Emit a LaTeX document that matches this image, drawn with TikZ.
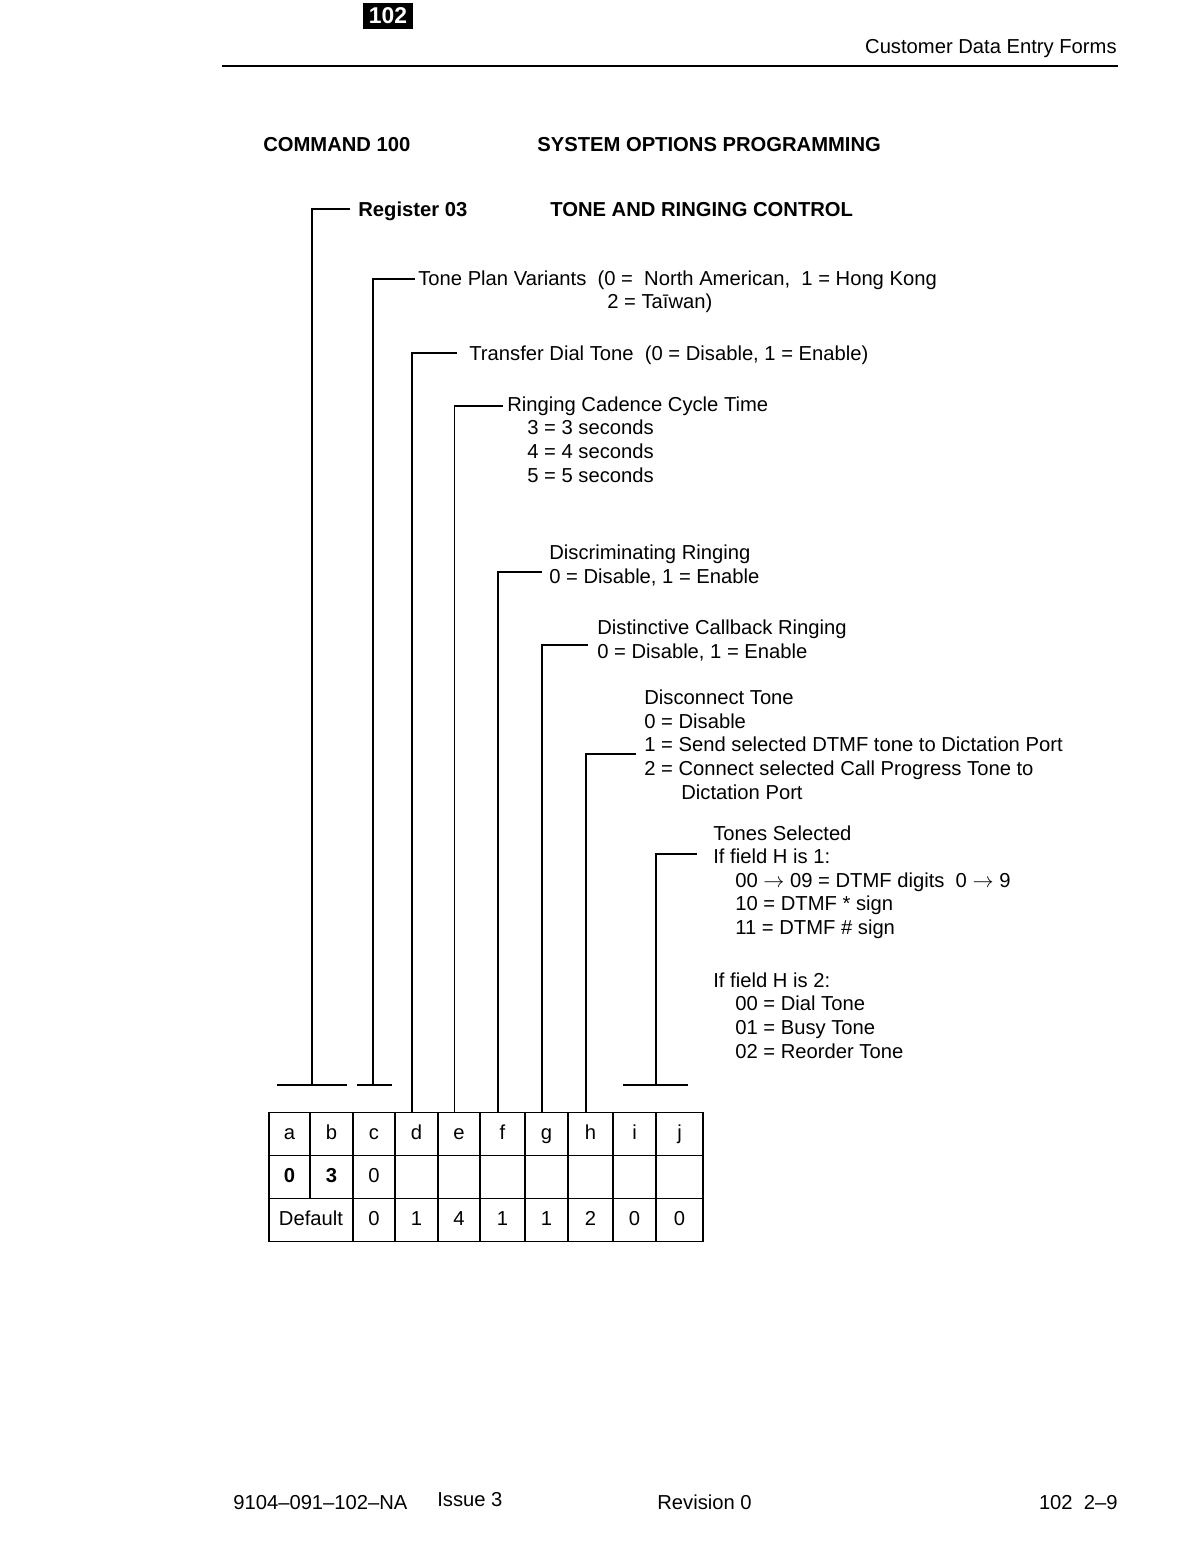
\documentclass[tikz,border=0pt]{standalone}
\usepackage{fontspec}
\setmainfont{Liberation Sans}
\newcommand{\tto}{\ensuremath{\rightarrow}}
\usetikzlibrary{positioning}

\begin{document}
\begin{tikzpicture}[
  x=0.02cm, y=-0.02cm,
  lbl/.style={anchor=base west, inner sep=0pt, align=left, font=\fontsize{11.5}{13.4}\selectfont},
  head/.style={lbl, font=\fontsize{11.5}{13.4}\selectfont\bfseries},
  pgbox/.style={fill=black, text=white, inner sep=0pt, minimum width=1cm, minimum height=0.54cm, font=\fontsize{13}{13}\selectfont\bfseries},
  cell/.style={draw, line width=1.1pt, inner sep=0pt, minimum height=0.86cm, text height=8.3pt, text depth=2.4pt, font=\fontsize{11.5}{13.4}\selectfont},
  bracket/.style={line width=1.1pt},
]
\useasboundingbox (0,0) rectangle (1192,1568);

% page header
\node[pgbox] (pg) at (388,16) {102};
\node[lbl, anchor=base east] (hdr) at (1117,54) {Customer Data Entry Forms};
\coordinate (rule-w) at (222,66);
\coordinate (rule-e) at (1118,66);
\draw[line width=1.4pt] (rule-w) -- (rule-e);

\node[head] (cmd) at (263,152) {COMMAND 100};
\node[head] (sysopt) at (537,152) {SYSTEM OPTIONS PROGRAMMING};
\node[head] (reg) at (358,216) {Register 03};
\node[head] (ctl) at (550,216) {TONE AND RINGING CONTROL};

% field descriptions (multi-line ones sit on their last baseline)
\node[lbl] (plan) at (418,285) {Tone Plan Variants~~(0 =~~North American,~~1 = Hong Kong};
\node[lbl] (planB) at (607,308) {2 = Taīwan)};
\node[lbl] (xfer) at (469,360) {Transfer Dial Tone~~(0 = Disable, 1 = Enable)};
\node[lbl] (ring) at (507,482) {Ringing Cadence Cycle Time\\
  \hspace*{0.4cm}3 = 3 seconds\\
  \hspace*{0.4cm}4 = 4 seconds\\
  \hspace*{0.4cm}5 = 5 seconds};
\node[lbl] (disc) at (549,583) {Discriminating Ringing\\0 = Disable, 1 = Enable};
\node[lbl] (dist) at (597,658) {Distinctive Callback Ringing\\0 = Disable, 1 = Enable};
\node[lbl] (disco) at (644,799) {Disconnect Tone\\
  0 = Disable\\
  1 = Send selected DTMF tone to Dictation Port\\
  2 = Connect selected Call Progress Tone to\\
  \hspace*{0.74cm}Dictation Port};
\node[lbl] (tones) at (713,1058) {Tones Selected\\
  If field H is 1:\\
  \hspace*{0.44cm}00 \tto{} 09 = DTMF digits~~0 \tto{} 9\\
  \hspace*{0.44cm}10 = DTMF * sign\\
  \hspace*{0.44cm}11 = DTMF \# sign\\[0.59cm]
  If field H is 2:\\
  \hspace*{0.44cm}00 = Dial Tone\\
  \hspace*{0.44cm}01 = Busy Tone\\
  \hspace*{0.44cm}02 = Reorder Tone};

% register table
\foreach \l/\xa/\xb/\v in {a/269/310/\bfseries 0, b/310/353/\bfseries 3, c/353/395/0,
    d/395/438/, e/438/480/, f/480/525/, g/525/568/, h/568/613/, i/613/656/, j/656/703/}
  {\pgfmathsetmacro\w{(\xb-\xa)*0.02}
   \node[cell, minimum width=\w cm] (c\l) at ({(\xa+\xb)/2},1134) {\l};
   \node[cell, minimum width=\w cm] (v\l) at ({(\xa+\xb)/2},1177) {\v};}
\node[cell, minimum width=1.68cm] (dflt) at (311,1220) {Default};
\foreach \l/\xa/\xb/\v in {c/353/395/0, d/395/438/1, e/438/480/4, f/480/525/1,
    g/525/568/1, h/568/613/2, i/613/656/0, j/656/703/0}
  {\pgfmathsetmacro\w{(\xb-\xa)*0.02}
   \node[cell, minimum width=\w cm] (def\l) at ({(\xa+\xb)/2},1220) {\v};}

% ticks over fixed and paired fields
\coordinate (tickA-w) at (277,1085); \coordinate (tickA-e) at (347,1085);
\coordinate (tickB-w) at (357,1085); \coordinate (tickB-e) at (392,1085);
\coordinate (tickC-w) at (623,1085); \coordinate (tickC-e) at (688,1085);
\coordinate (tickA) at (312,1085);
\coordinate (tickB) at (373,1085);
\coordinate (tickC) at (656,1085);
\draw[bracket] (tickA-w) -- (tickA-e);
\draw[bracket] (tickB-w) -- (tickB-e);
\draw[bracket] (tickC-w) -- (tickC-e);

% bracket arm ends
\coordinate (armReg) at (350,209);
\coordinate (armPlan) at (415,279);
\coordinate (armXfer) at (457,353);
\coordinate (armRing) at (503,406);
\coordinate (armDisc) at (542,572);
\coordinate (armDist) at (588,645);
\coordinate (armDisco) at (636,754);
\coordinate (armTones) at (697,854);

\draw[bracket] (tickA) |- (armReg);
\draw[bracket] (tickB) |- (armPlan);
\draw[bracket] ([xshift=-0.09cm]cd.north) |- (armXfer);
\draw[bracket] ([xshift=-0.09cm]ce.north) |- (armRing);
\draw[bracket] ([xshift=-0.09cm]cf.north) |- (armDisc);
\draw[bracket] ([xshift=-0.09cm]cg.north) |- (armDist);
\draw[bracket] ([xshift=-0.09cm]ch.north) |- (armDisco);
\draw[bracket] (tickC) |- (armTones);

% page footer
\node[lbl] (docno) at (233,1509) {9104–091–102–NA};
\node[lbl] (issue) at (437,1506) {Issue 3};
\node[lbl] (rev) at (657,1509) {Revision 0};
\node[lbl, anchor=base east] (pgno) at (1118,1509) {102~~2–9};
\end{tikzpicture}
\end{document}
